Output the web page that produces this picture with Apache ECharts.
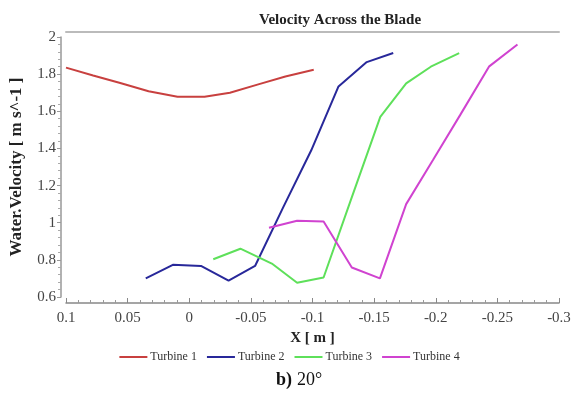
<!DOCTYPE html>
<html>
<head>
<meta charset="utf-8">
<script src="https://cdn.jsdelivr.net/npm/echarts@6/dist/echarts.min.js"></script>
<style>
html,body{margin:0;padding:0;background:#fff;}
#chart{width:579px;height:396px;}
</style>
</head>
<body>
<div id="chart"></div>
<script>
// Data
const seriesNames = ['Turbine 1', 'Turbine 2', 'Turbine 3', 'Turbine 4'];
const t1X = [0.1, 0.078, 0.056, 0.033, 0.0095, -0.0124, -0.033, -0.056, -0.078, -0.101];
const t1Y = [1.835, 1.793, 1.752, 1.708, 1.678, 1.678, 1.70, 1.745, 1.787, 1.824];
const t2X = [0.0353, 0.0133, -0.0095, -0.0319, -0.0534, -0.076, -0.099, -0.1211, -0.144, -0.1655];
const t2Y = [0.70, 0.773, 0.767, 0.688, 0.767, 1.08, 1.39, 1.734, 1.865, 1.914];
const t3X = [-0.0195, -0.0415, -0.067, -0.0875, -0.109, -0.131, -0.155, -0.176, -0.196, -0.219];
const t3Y = [0.803, 0.86, 0.78, 0.677, 0.705, 1.12, 1.57, 1.75, 1.84, 1.913];
const t4X = [-0.0647, -0.0875, -0.109, -0.1319, -0.1547, -0.176, -0.198, -0.22, -0.2434, -0.2663];
const t4Y = [0.973, 1.011, 1.006, 0.759, 0.70, 1.10, 1.34, 1.582, 1.842, 1.96];
const xTicks = { min: -0.3, max: 0.1, interval: 0.05 };
const yTicks = { min: 0.6, max: 2.0, interval: 0.2 };

const colors = ['#c8403f', '#28289a', '#5ee05a', '#d043d0'];
const allX = [t1X, t2X, t3X, t4X];
const allY = [t1Y, t2Y, t3Y, t4Y];

const serif = '"Liberation Serif", "DejaVu Serif", serif';
const chart = echarts.init(document.getElementById('chart'), null, { renderer: 'canvas' });

const series = seriesNames.map((name, i) => ({
  name: name,
  type: 'line',
  xAxisIndex: 0,
  yAxisIndex: 0,
  data: allX[i].map((x, k) => [x, allY[i][k]]),
  symbol: 'none',
  lineStyle: { color: colors[i], width: 2 },
  itemStyle: { color: colors[i] },
  animation: false
}));

const fmt = v => String(+v.toFixed(2));

chart.setOption({
  backgroundColor: '#ffffff',
  animation: false,
  title: [{
    text: 'Velocity Across the Blade',
    left: 335, top: 8, textAlign: 'center',
    textStyle: { fontFamily: serif, fontWeight: 'bold', fontSize: 15, color: '#222' }
  }, {
    text: '{b|b)} {n|20°}',
    left: 294, top: 366, textAlign: 'center',
    textStyle: {
      fontWeight: 'normal',
      rich: {
        b: { fontFamily: serif, fontWeight: 'bold', fontSize: 18, color: '#111' },
        n: { fontFamily: serif, fontWeight: 'normal', fontSize: 18, color: '#111' }
      }
    }
  }],
  legend: {
    data: seriesNames,
    left: 'center', top: 346,
    itemWidth: 28, itemHeight: 2, itemGap: 10,
    icon: 'rect',
    textStyle: { fontFamily: serif, fontSize: 12, color: '#333', padding: [0, 0, 0, -2] }
  },
  grid: { left: 62, right: 20, top: 37, bottom: 99 },
  xAxis: [{
    type: 'value',
    inverse: true,
    min: xTicks.min, max: xTicks.max, interval: xTicks.interval,
    position: 'bottom',
    offset: 6,
    name: 'X [ m ]',
    nameLocation: 'middle', nameGap: 26,
    nameTextStyle: { fontFamily: serif, fontWeight: 'bold', fontSize: 15, color: '#222' },
    axisLine: { show: true, onZero: false, lineStyle: { color: '#888', width: 1.5 } },
    axisTick: { show: true, inside: true, length: 5, lineStyle: { color: '#888' } },
    minorTick: { show: true, splitNumber: 5, length: 3, lineStyle: { color: '#999' } },
    axisLabel: { formatter: fmt, fontFamily: serif, fontSize: 15, color: '#444', margin: 8 },
    splitLine: { show: false }
  }, {
    type: 'value',
    inverse: true,
    min: xTicks.min, max: xTicks.max,
    position: 'top',
    offset: 5,
    axisLine: { show: true, onZero: false, lineStyle: { color: '#bbb', width: 2 } },
    axisTick: { show: false },
    axisLabel: { show: false },
    splitLine: { show: false }
  }],
  yAxis: {
    type: 'value',
    min: yTicks.min, max: yTicks.max, interval: yTicks.interval,
    offset: 5,
    name: 'Water.Velocity [ m s^-1 ]',
    nameLocation: 'middle', nameGap: 36, nameRotate: 90,
    nameTextStyle: { fontFamily: serif, fontWeight: 'bold', fontSize: 17, color: '#222' },
    axisLine: { show: true, onZero: false, lineStyle: { color: '#999', width: 1.5 } },
    axisTick: { show: true, inside: false, length: 4, lineStyle: { color: '#999' } },
    minorTick: { show: true, splitNumber: 5, length: 3, lineStyle: { color: '#aaa' } },
    axisLabel: { formatter: fmt, fontFamily: serif, fontSize: 15, color: '#444', margin: 5 },
    splitLine: { show: false }
  },
  series: series
});
</script>
</body>
</html>
